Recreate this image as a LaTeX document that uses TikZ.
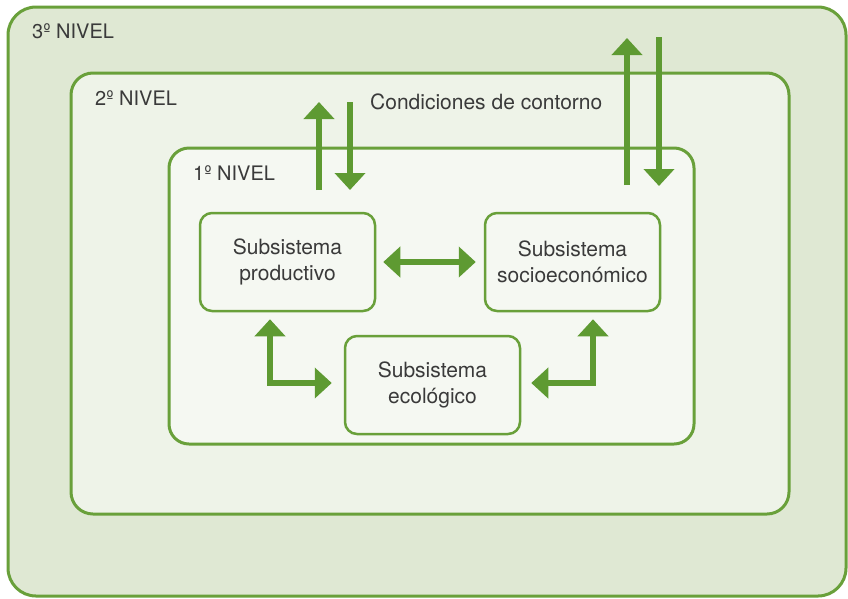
\documentclass[tikz,border=0pt]{standalone}
\usepackage{fontspec}
\setmainfont{TeX Gyre Heros}
\usepackage{tikz}
\usetikzlibrary{arrows.meta, positioning}

\definecolor{leafline}{HTML}{69A03A}
\definecolor{leafarrow}{HTML}{5E9A32}
\definecolor{fillthree}{HTML}{DFE8D3}
\definecolor{filltwo}{HTML}{EEF3E8}
\definecolor{fillone}{HTML}{F5F8F2}
\definecolor{inkgray}{HTML}{3A3A3A}

\tikzset{
  level/.style={draw=leafline, line width=3pt, rounded corners=28pt},
  subsys/.style={draw=leafline, fill=fillone, line width=2.5pt, rounded corners=12pt,
    minimum width=175pt, minimum height=98pt, align=center, text=inkgray,
    font=\fontsize{21}{26}\selectfont},
  tag/.style={anchor=west, text=inkgray, inner sep=0pt, font=\fontsize{20}{22}\selectfont},
  flow/.style={draw=leafarrow, line width=6pt, arrows={-{Triangle[length=17pt,width=30pt]}}},
  twoway/.style={draw=leafarrow, line width=6pt,
    arrows={{Triangle[length=17pt,width=30pt]}-{Triangle[length=17pt,width=30pt]}}}
}

\begin{document}
\begin{tikzpicture}[x=1pt, y=-1pt]
  \useasboundingbox (0,0) rectangle (848,598);
  % levels
  \draw[level, fill=fillthree] (8,7) rectangle (846,596);
  \draw[level, fill=filltwo, rounded corners=22pt] (71,73) rectangle (789,514);
  \draw[level, fill=fillone, rounded corners=20pt] (169,148) rectangle (694,444);
  \node[tag] (t3) at (32,31) {3º NIVEL};
  \node[tag] (t2) at (95,98) {2º NIVEL};
  \node[tag] (t1) at (193,173) {1º NIVEL};
  \node[tag, font=\fontsize{21}{24}\selectfont] (cc) at (370,102) {Condiciones de contorno};

  % subsystems
  \node[subsys] (prod)  at (287.5,262) {Subsistema\\productivo};
  \node[subsys] (socio) at (572.5,262) {Subsistema\\socioeconómico};
  \node[subsys] (eco)   at (432.5,385) {Subsistema\\ecológico};

  % exchanges with the boundary
  \coordinate (outA) at (319,190);
  \coordinate (topA) at (319,102);
  \coordinate (inA)  at (350,102);
  \coordinate (botA) at (350,190);
  \coordinate (outB) at (627,185);
  \coordinate (topB) at (627,38);
  \coordinate (inB)  at (659,37);
  \coordinate (botB) at (659,186);
  \draw[flow] (outA) -- (topA);
  \draw[flow] (inA) -- (botA);
  \draw[flow] (outB) -- (topB);
  \draw[flow] (inB) -- (botB);

  % links between subsystems
  \draw[twoway, shorten <=7pt, shorten >=8pt] (prod) -- (socio);
  \draw[twoway] ([xshift=-17.5pt, yshift=-7pt]prod.south) |- ([xshift=-12pt, yshift=2pt]eco.west);
  \draw[twoway] ([xshift=20.5pt, yshift=-7pt]socio.south) |- ([xshift=10pt, yshift=2pt]eco.east);
\end{tikzpicture}
\end{document}
